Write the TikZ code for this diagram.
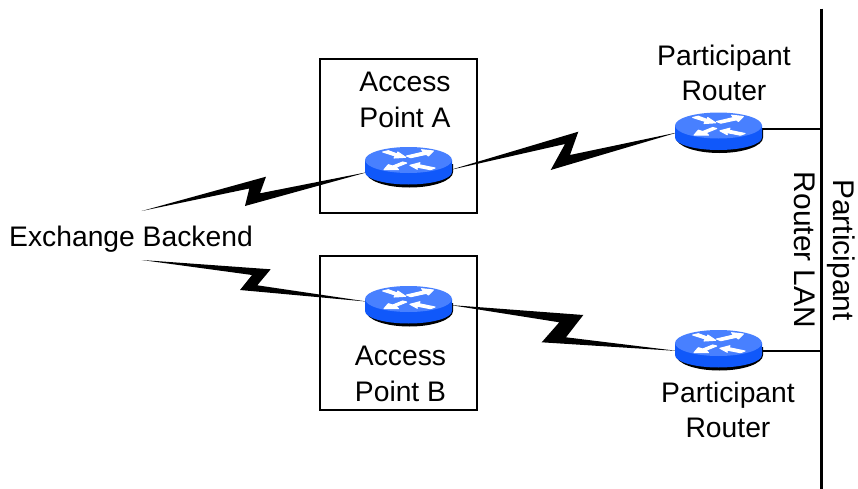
\documentclass[tikz,border=0pt]{standalone}
\usepackage{fontspec}
\setmainfont{Liberation Sans}
\definecolor{rtop}{RGB}{72,128,255}
\definecolor{rside}{RGB}{16,88,250}
\tikzset{
  box/.style={draw=black,line width=1.5pt,fill=none,minimum width=117.75pt,minimum height=115.5pt,inner sep=0pt},
  lbl/.style={align=center,font=\fontsize{21.2}{26.5}\selectfont,inner sep=0pt},
  lblrot/.style={align=center,font=\fontsize{22.4}{29.5}\selectfont,inner sep=0pt,rotate=-90},
  bolt/.style={fill=black,draw=none},
  wire/.style={draw=black,line width=1.2pt},
  lan/.style={draw=black,line width=2.25pt},
  rnode/.style={minimum width=65.25pt,minimum height=31pt,inner sep=0pt},
  rarrow/.style={fill=white,draw=white,line width=0.8pt,line join=round}
}
\newcommand{\routerat}[3]{%
  \node[rnode] (#1) at (#2,#3) {};
  \begin{scope}[shift={(#2,#3)}]
    \fill[black] (-42,5) -- (44.5,-3) -- (44.5,5) arc[x radius=43.5,y radius=15.5,start angle=0,end angle=180] -- cycle;
    \fill[rside] (-43.5,-7) -- (43.5,-7) -- (43.5,5) arc[x radius=43.5,y radius=12.5,start angle=0,end angle=180] -- cycle;
    \fill[rtop] (0,-7) ellipse[x radius=43.5,y radius=13];
    \path[rarrow] (-25.8,-15) -- (-20.2,-16.3) -- (-11.2,-13) -- (-10.8,-15) -- (-2.8,-9.7) -- (-14.5,-9) -- (-13.2,-11) -- cycle;
    \path[rarrow] (24.8,-16) -- (13,-17.3) -- (15.2,-15) -- (-2,-11) -- (2.2,-9.3) -- (18,-12.7) -- (19.8,-11) -- cycle;
    \path[rarrow] (-5.8,-5) -- (-1.8,-4) -- (-12.5,0.3) -- (-10,2.7) -- (-24.5,2.7) -- (-20.2,-2.3) -- (-15.8,-1) -- cycle;
    \path[rarrow] (1.5,-1.7) -- (11.5,-4.3) -- (10.5,-2.3) -- (26.5,1) -- (22,2.7) -- (8,0) -- (8.8,2.3) -- cycle;
  \end{scope}%
}
\begin{document}
\begin{tikzpicture}[x=0.75pt,y=-0.75pt]
\useasboundingbox (0,0) rectangle (858,489);
\fill[white] (0,0) rectangle (858,489);
% boxes
\node[box] (boxa) at (398.5,136) {};
\node[box] (boxb) at (398.5,333) {};
% free ends
\coordinate (ea) at (141.7,211);
\coordinate (eb) at (141.7,260);
\coordinate (lantop) at (821,8.5);
\coordinate (lanbot) at (821,489);
% connector end points on the routers
\coordinate (ra-l) at (368,172);
\coordinate (ra-r) at (450,170);
\coordinate (rb-l) at (368,301.7);
\coordinate (rb-r) at (450,305);
\coordinate (pa-l) at (678,132.3);
\coordinate (pb-l) at (678,351);
\coordinate (pa-w) at (760,129);
\coordinate (pb-w) at (760,351);
% bolts
\fill[bolt] (ea) -- (266,176.7) -- (260,193.3) -- (ra-l) -- (245,206) -- (249.3,188.5) -- cycle;
\fill[bolt] (eb) -- (270.7,269.3) -- (257.3,285.3) -- (rb-l) -- (240,290) -- (252,275) -- cycle;
\fill[bolt] (ra-r) -- (578.3,131.7) -- (570,155) -- (pa-l) -- (550.7,170) -- (565,144) -- cycle;
\fill[bolt] (rb-r) -- (583.3,315) -- (566,337.3) -- (pb-l) -- (541.7,342.3) -- (559.3,322.3) -- cycle;
% lan and router wires
\draw[lan] (lantop) -- (lanbot);
\draw[wire] (pa-w) -- (pa-w -| lantop);
\draw[wire] (pb-w) -- (pb-w -| lantop);
% routers
\routerat{ra}{408.5}{167}
\routerat{rb}{408.5}{306}
\routerat{pa}{718.5}{132.5}
\routerat{pb}{718.5}{350}
% labels
\node[lbl] (la) at (405,100) {Access\\Point A};
\node[lbl] (lb) at (400.5,374) {Access\\Point B};
\node[lbl] (lpa) at (724,73) {Participant\\Router};
\node[lbl] (lpb) at (728,410) {Participant\\Router};
\node[lbl] (lex) at (131,239) {Exchange Backend};
\node[lblrot] (llan) at (825,250) {Participant\\Router LAN};
\end{tikzpicture}
\end{document}
